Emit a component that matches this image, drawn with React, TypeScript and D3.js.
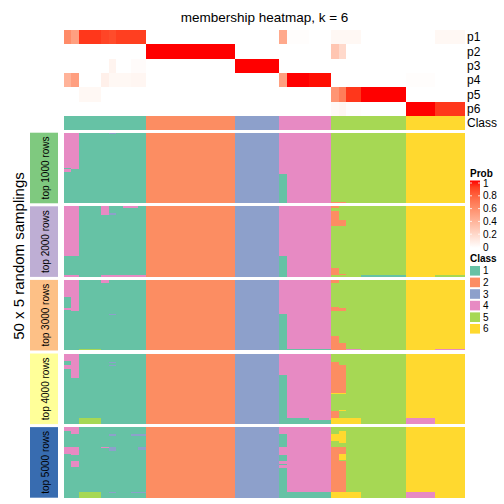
import React from "react";
import * as d3 from "d3";

// ---- data ----
const classSizes = [11, 12, 6, 7, 10, 8];
const classColors = ["#66C2A5", "#FC8D62", "#8DA0CB", "#E78AC3", "#A6D854", "#FFD92F"];
const classLabels = ["1", "2", "3", "4", "5", "6"];
const probRows = ["p1", "p2", "p3", "p4", "p5", "p6"];
const blockLabels = ["top 1000 rows", "top 2000 rows", "top 3000 rows", "top 4000 rows", "top 5000 rows"];
const blockColors = ["#7FC97F", "#BEAED4", "#FDC086", "#FFFF99", "#386CB0"];
const probTicks = [0, 0.2, 0.4, 0.6, 0.8, 1];
const rowsPerBlock = 50;

// membership probabilities per column (54 columns, grouped by class)
const p1 = [0.6, 0.5, 0.92, 0.92, 0.92, 0.88, 0.86, 0.9, 0.9, 0.9, 0.9,
  0, 0, 0, 0, 0, 0, 0, 0, 0, 0, 0, 0,
  0, 0, 0, 0, 0, 0,
  0.45, 0.01, 0.01, 0.01, 0, 0, 0,
  0.04, 0.04, 0.04, 0.04, 0, 0, 0, 0, 0, 0,
  0, 0, 0, 0, 0.04, 0.04, 0.04, 0.04];
const p2 = [0, 0, 0, 0, 0, 0, 0, 0, 0, 0, 0,
  1, 1, 1, 1, 1, 1, 1, 1, 1, 1, 1, 1,
  0, 0, 0, 0, 0, 0,
  0, 0, 0, 0, 0, 0, 0,
  0.3, 0.2, 0, 0, 0, 0, 0, 0, 0, 0,
  0, 0, 0, 0, 0, 0, 0, 0];
const p3 = [0, 0, 0, 0, 0, 0, 0.06, 0, 0, 0.02, 0.02,
  0, 0, 0, 0, 0, 0, 0, 0, 0, 0, 0, 0,
  1, 1, 1, 1, 1, 1,
  0, 0, 0, 0, 0, 0, 0,
  0, 0, 0, 0, 0, 0, 0, 0, 0, 0,
  0, 0, 0, 0, 0, 0, 0, 0];
const p4 = [0.4, 0.5, 0, 0, 0, 0.08, 0.04, 0.04, 0.04, 0.05, 0.05,
  0, 0, 0, 0, 0, 0, 0, 0, 0, 0, 0, 0,
  0, 0, 0, 0, 0, 0,
  0.5, 1, 1, 1, 0.99, 0.99, 0.99,
  0, 0, 0, 0, 0, 0, 0, 0, 0, 0,
  0.01, 0.01, 0.01, 0.01, 0, 0, 0, 0];
const p5 = [0, 0, 0.04, 0.04, 0.04, 0, 0, 0, 0, 0, 0,
  0, 0, 0, 0, 0, 0, 0, 0, 0, 0, 0, 0,
  0, 0, 0, 0, 0, 0,
  0, 0, 0, 0, 0, 0, 0,
  0.55, 0.66, 0.92, 0.92, 1, 1, 1, 1, 1, 1,
  0, 0, 0, 0, 0, 0, 0, 0];
const p6 = [0, 0, 0, 0, 0, 0, 0, 0, 0, 0, 0,
  0, 0, 0, 0, 0, 0, 0, 0, 0, 0, 0, 0,
  0, 0, 0, 0, 0, 0,
  0, 0, 0, 0, 0, 0, 0,
  0.03, 0.05, 0.01, 0.01, 0, 0, 0, 0, 0, 0,
  1, 1, 1, 1, 0.92, 0.92, 0.92, 0.92];
const probs = [p1, p2, p3, p4, p5, p6];

// sampled class assignments that differ from the consensus column class:
// [block, firstRow, lastRow, firstCol, lastCol, class]
const deviations: number[][] = [
  [0, 0, 24, 0, 0, 4], [0, 26, 27, 0, 0, 4], [0, 0, 25, 1, 1, 4], [0, 0, 0, 6, 6, 3],
  [0, 29, 49, 29, 29, 1], [0, 49, 49, 36, 37, 2],

  [1, 0, 34, 0, 1, 4], [1, 0, 5, 5, 5, 4], [1, 5, 5, 6, 6, 3], [1, 0, 0, 8, 9, 4],
  [1, 49, 49, 0, 1, 4], [1, 49, 49, 5, 10, 4], [1, 0, 0, 36, 36, 2], [1, 3, 13, 36, 36, 2],
  [1, 10, 13, 37, 37, 2], [1, 35, 49, 29, 29, 1], [1, 44, 48, 36, 36, 2], [1, 48, 48, 37, 37, 2],
  [1, 49, 49, 40, 45, 1], [1, 49, 49, 50, 53, 5],

  [2, 0, 11, 0, 0, 4], [2, 20, 20, 0, 0, 4], [2, 0, 21, 1, 1, 4], [2, 0, 1, 5, 5, 4],
  [2, 24, 24, 6, 6, 3], [2, 49, 49, 2, 4, 5], [2, 0, 1, 36, 36, 2], [2, 24, 49, 29, 29, 1],
  [2, 19, 21, 36, 36, 2], [2, 20, 21, 37, 37, 2], [2, 40, 49, 36, 36, 2], [2, 45, 49, 37, 37, 2],
  [2, 49, 49, 29, 35, 1], [2, 49, 49, 38, 39, 4], [2, 49, 49, 50, 53, 4],

  [3, 0, 4, 0, 0, 4], [3, 8, 10, 0, 0, 4], [3, 0, 14, 1, 1, 4], [3, 15, 16, 1, 1, 4],
  [3, 6, 6, 6, 6, 3], [3, 8, 8, 6, 6, 3], [3, 46, 49, 2, 4, 5], [3, 15, 49, 29, 29, 1],
  [3, 46, 49, 29, 32, 1], [3, 47, 49, 33, 35, 1], [3, 6, 27, 36, 36, 2], [3, 8, 27, 37, 37, 2],
  [3, 28, 28, 36, 37, 6], [3, 41, 45, 36, 36, 2], [3, 40, 40, 37, 37, 6], [3, 46, 49, 36, 39, 6],
  [3, 46, 49, 46, 49, 4],

  [4, 0, 2, 0, 0, 4], [4, 0, 4, 1, 1, 4], [4, 5, 5, 6, 6, 3], [4, 5, 5, 9, 10, 3],
  [4, 14, 18, 0, 0, 4], [4, 14, 19, 1, 1, 4], [4, 14, 14, 5, 5, 4], [4, 14, 16, 6, 6, 3],
  [4, 14, 15, 10, 10, 3], [4, 24, 27, 1, 1, 4], [4, 46, 46, 6, 6, 3], [4, 46, 46, 9, 10, 3],
  [4, 46, 49, 2, 4, 5], [4, 5, 13, 29, 29, 1], [4, 20, 23, 29, 29, 1], [4, 26, 26, 29, 29, 1],
  [4, 29, 49, 29, 29, 1], [4, 46, 49, 29, 35, 1], [4, 5, 9, 36, 36, 6], [4, 3, 10, 37, 37, 6],
  [4, 14, 45, 36, 36, 2], [4, 14, 18, 37, 37, 2], [4, 19, 22, 37, 37, 6], [4, 24, 45, 37, 37, 2],
  [4, 46, 49, 36, 39, 6], [4, 46, 49, 46, 49, 4],
];

// ---- layout ----
const FONT = "'Liberation Sans', Arial, Helvetica, sans-serif";
const LEFT = 64, RIGHT = 465;
const ANNO_TOP = 30, ANNO_BOTTOM = 116, CLASS_BOTTOM = 130;
const BODY_TOP = 132.7, BODY_BOTTOM = 497.7;

export default function App() {
  const colClass: number[] = [];
  classSizes.forEach((n, i) => { for (let k = 0; k < n; k++) colClass.push(i + 1); });
  const nCol = colClass.length;

  const x = d3.scaleBand<number>().domain(d3.range(nCol)).range([LEFT, RIGHT]);
  const yP = d3.scaleBand<string>().domain(probRows).range([ANNO_TOP, ANNO_BOTTOM]);
  const yBlock = d3.scaleBand<number>().domain(d3.range(blockLabels.length))
    .range([BODY_TOP, BODY_BOTTOM]).paddingInner(0.041);
  const probColor = d3.scaleLinear<string>().domain([0, 1]).range(["#FFFFFF", "#FF0000"])
    .interpolate(d3.interpolateLab);

  // build grids
  const grids = blockLabels.map(() => d3.range(rowsPerBlock).map(() => colClass.slice()));
  deviations.forEach(([b, r0, r1, c0, c1, k]) => {
    for (let r = r0; r <= r1; r++) for (let c = c0; c <= c1; c++) grids[b][r][c] = k;
  });

  const bodyRects: JSX.Element[] = [];
  grids.forEach((grid, b) => {
    const top = yBlock(b)!;
    const yRow = d3.scaleLinear().domain([0, rowsPerBlock]).range([top, top + yBlock.bandwidth()]);
    for (let c = 0; c < nCol; c++) {
      let start = 0;
      for (let r = 1; r <= rowsPerBlock; r++) {
        if (r === rowsPerBlock || grid[r][c] !== grid[start][c]) {
          bodyRects.push(
            <rect key={`b${b}-${c}-${start}`} x={x(c)} width={x.bandwidth()}
              y={yRow(start)} height={yRow(r) - yRow(start)}
              fill={classColors[grid[start][c] - 1]} />
          );
          start = r;
        }
      }
    }
  });

  const legendScale = d3.scaleLinear().domain([0, 1]).range([247, 183]);
  const gradStops = d3.range(0, 1.0001, 0.1);

  return (
    <svg width={504} height={504} style={{ position: "absolute", left: 0, top: 0 }} fontFamily={FONT}>
      <defs>
        <linearGradient id="probGrad" x1="0" y1="1" x2="0" y2="0">
          {gradStops.map((v) => (
            <stop key={v} offset={v} stopColor={probColor(v)} />
          ))}
        </linearGradient>
      </defs>
      <rect width={504} height={504} fill="#fff" />
      <text x={(LEFT + RIGHT) / 2} y={22} fontSize={13.5} textAnchor="middle">membership heatmap, k = 6</text>

      {/* top annotation */}
      <g shapeRendering="crispEdges">
        {probs.map((row, i) =>
          row.map((v, c) => (
            <rect key={`p${i}-${c}`} x={x(c)} width={x.bandwidth()} y={yP(probRows[i])}
              height={yP.bandwidth()} fill={probColor(v)} />
          ))
        )}
        {colClass.map((k, c) => (
          <rect key={`cl${c}`} x={x(c)} width={x.bandwidth()} y={ANNO_BOTTOM}
            height={CLASS_BOTTOM - ANNO_BOTTOM} fill={classColors[k - 1]} />
        ))}
      </g>
      {probRows.map((p) => (
        <text key={p} x={467} y={yP(p)! + yP.bandwidth() / 2} dy="0.35em" fontSize={12}>{p}</text>
      ))}
      <text x={467} y={(ANNO_BOTTOM + CLASS_BOTTOM) / 2} dy="0.35em" fontSize={12}>Class</text>

      {/* body */}
      <g shapeRendering="crispEdges">{bodyRects}</g>

      {/* block labels */}
      {blockLabels.map((lab, b) => {
        const top = yBlock(b)!;
        const cy = top + yBlock.bandwidth() / 2;
        return (
          <g key={lab}>
            <rect x={30} width={28} y={top} height={yBlock.bandwidth()} fill={blockColors[b]} />
            <text transform={`translate(45,${cy}) rotate(-90)`} textAnchor="middle" dy="0.35em" fontSize={10}>{lab}</text>
          </g>
        );
      })}
      <text transform={`translate(19,${256}) rotate(-90)`} textAnchor="middle" dy="0.35em" fontSize={15}>50 x 5 random samplings</text>

      {/* Prob legend */}
      <text x={470} y={177} fontSize={10} fontWeight="bold">Prob</text>
      <rect x={470} y={180.5} width={10} height={67.5} fill="url(#probGrad)" />
      {probTicks.map((t) => (
        <g key={t}>
          <line x1={470} x2={472} y1={legendScale(t)} y2={legendScale(t)} stroke="#fff" strokeWidth={0.8} />
          <line x1={478} x2={480} y1={legendScale(t)} y2={legendScale(t)} stroke="#fff" strokeWidth={0.8} />
          <text x={483} y={legendScale(t)} dy="0.35em" fontSize={10}>{t}</text>
        </g>
      ))}

      {/* Class legend */}
      <text x={470} y={262} fontSize={10} fontWeight="bold">Class</text>
      {classLabels.map((lab, i) => (
        <g key={lab}>
          <rect x={470} y={266 + i * 11.6} width={10} height={9.6} fill={classColors[i]} />
          <text x={483} y={266 + i * 11.6 + 4.8} dy="0.35em" fontSize={10}>{lab}</text>
        </g>
      ))}
    </svg>
  );
}
